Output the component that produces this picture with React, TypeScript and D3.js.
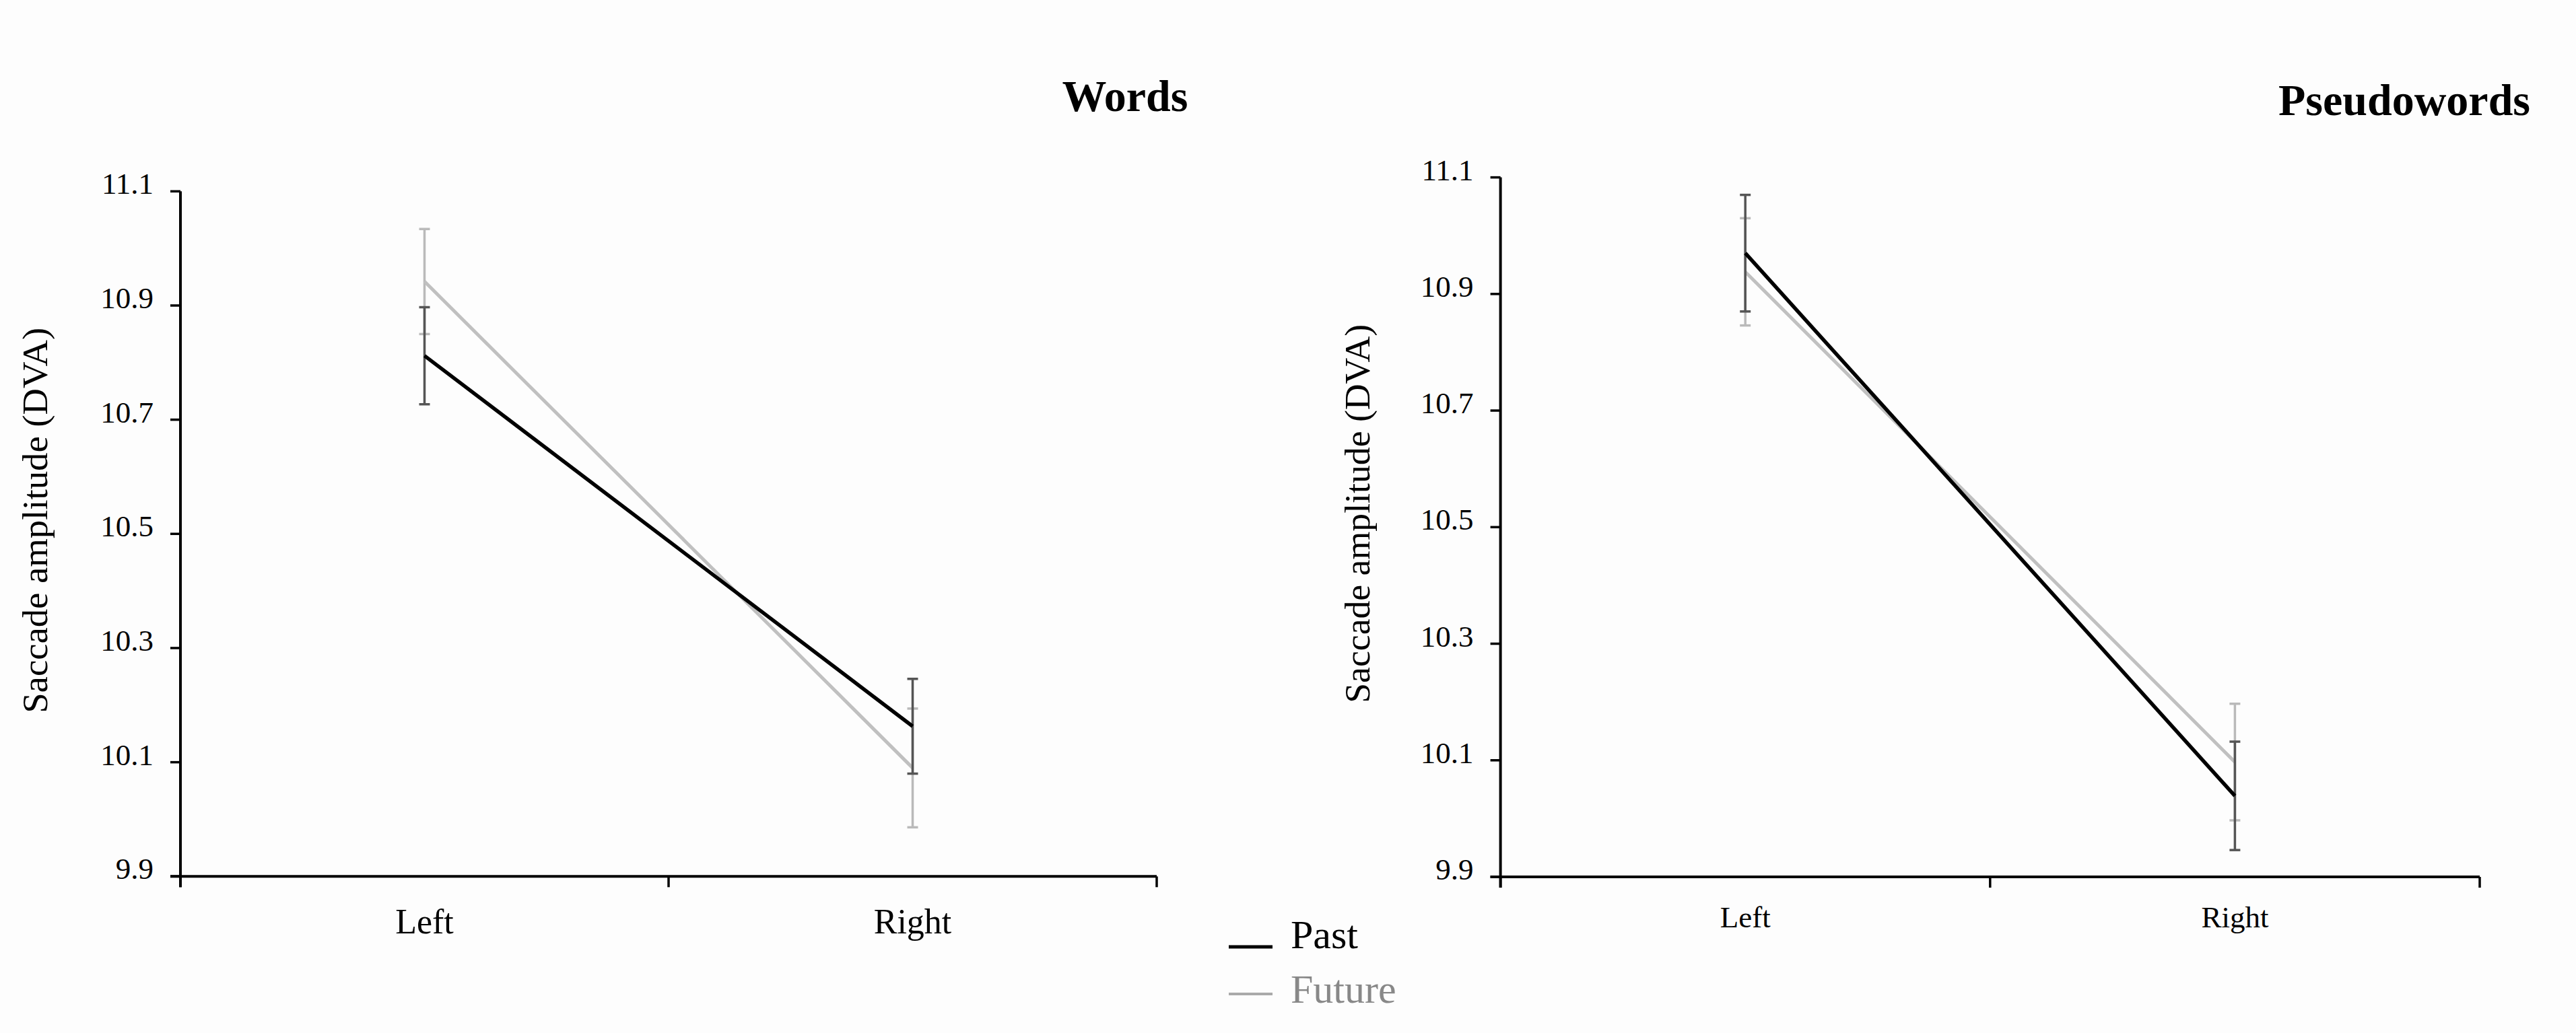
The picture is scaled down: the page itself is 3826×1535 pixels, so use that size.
import { useMemo } from "react"
import * as d3 from "d3"

const conditions = ["Left", "Right"]
const yTicks = [9.9, 10.1, 10.3, 10.5, 10.7, 10.9, 11.1]

const wordsPast = [10.812, 10.163]
const wordsPastErr = [0.085, 0.083]
const wordsFuture = [10.942, 10.09]
const wordsFutureErr = [0.092, 0.104]

const pseudoPast = [10.97, 10.039]
const pseudoPastErr = [0.1, 0.093]
const pseudoFuture = [10.938, 10.097]
const pseudoFutureErr = [0.092, 0.1]

const FONT = "'Liberation Serif', 'Times New Roman', serif"

interface PanelProps {
  title: string
  titleX: number
  titleY: number
  x0: number
  x1: number
  yTop: number
  yBottom: number
  labelX: number
  labelLen: number
  catFont: number
  catGap: number
  past: number[]
  pastErr: number[]
  future: number[]
  futureErr: number[]
}

function Panel(p: PanelProps) {
  const x = useMemo(() => d3.scaleBand<string>().domain(conditions).range([p.x0, p.x1]).padding(0), [p.x0, p.x1])
  const y = useMemo(() => d3.scaleLinear().domain([9.9, 11.1]).range([p.yBottom, p.yTop]), [p.yTop, p.yBottom])
  const cx = (c: string) => (x(c) || 0) + x.bandwidth() / 2
  const line = d3.line<number>().x((_, i) => cx(conditions[i])).y(d => y(d))

  const series = [
    { vals: p.future, errs: p.futureErr, stroke: "#c0c0c0", bar: "#bababa", w: 5 },
    { vals: p.past, errs: p.pastErr, stroke: "#000", bar: "#555", w: 5.5 },
  ]
  const bounds = [p.x0, ...conditions.slice(1).map(c => x(c) || 0), p.x1]

  return (
    <g fontFamily={FONT}>
      <text x={p.titleX} y={p.titleY} textAnchor="middle" fontSize={66} fontWeight="bold">{p.title}</text>
      {/* y axis */}
      <line x1={p.x0} x2={p.x0} y1={p.yTop} y2={p.yBottom + 16} stroke="#000" strokeWidth={4} />
      {yTicks.map(t => (
        <g key={t}>
          <line x1={p.x0 - 15} x2={p.x0} y1={y(t)} y2={y(t)} stroke="#000" strokeWidth={3.5} />
          <text x={p.x0 - 40} y={y(t) + 4} textAnchor="end" fontSize={45}>{t.toFixed(1)}</text>
        </g>
      ))}
      <text
        transform={`translate(${p.labelX},${(p.yTop + p.yBottom) / 2 - 20}) rotate(-90)`}
        textAnchor="middle"
        fontSize={53}
        textLength={p.labelLen}
        lengthAdjust="spacingAndGlyphs"
      >Saccade amplitude (DVA)</text>
      {/* x axis */}
      <line x1={p.x0 - 15} x2={p.x1} y1={p.yBottom} y2={p.yBottom} stroke="#000" strokeWidth={4} />
      {bounds.map((b, i) => (
        <line key={i} x1={b} x2={b} y1={p.yBottom} y2={p.yBottom + 16} stroke="#000" strokeWidth={3.5} />
      ))}
      {conditions.map(c => (
        <text key={c} x={cx(c)} y={p.yBottom + p.catGap} textAnchor="middle" fontSize={p.catFont}>{c}</text>
      ))}
      {series.map((s, si) => (
        <g key={si}>
          {s.vals.map((v, i) => {
            const xc = cx(conditions[i])
            const hi = y(v + s.errs[i])
            const lo = y(v - s.errs[i])
            return (
              <g key={i} stroke={s.bar} strokeWidth={3.5}>
                <line x1={xc} x2={xc} y1={hi} y2={lo} />
                <line x1={xc - 8} x2={xc + 8} y1={hi} y2={hi} />
                <line x1={xc - 8} x2={xc + 8} y1={lo} y2={lo} />
              </g>
            )
          })}
          <path d={line(s.vals) || ""} fill="none" stroke={s.stroke} strokeWidth={s.w} />
        </g>
      ))}
    </g>
  )
}

export default function App() {
  return (
    <div style={{ position: "absolute", left: 0, top: 0 }}>
      <svg width={3826} height={1535} style={{ display: "block", background: "#fdfdfd" }}>
        <Panel
          title="Words" titleX={1671} titleY={165}
          x0={268} x1={1718} yTop={284.3} yBottom={1302.3}
          labelX={70} labelLen={573} catFont={52} catGap={85}
          past={wordsPast} pastErr={wordsPastErr} future={wordsFuture} futureErr={wordsFutureErr}
        />
        <Panel
          title="Pseudowords" titleX={3571} titleY={171}
          x0={2228.6} x1={3683} yTop={263.6} yBottom={1303}
          labelX={2034} labelLen={563} catFont={45} catGap={75}
          past={pseudoPast} pastErr={pseudoPastErr} future={pseudoFuture} futureErr={pseudoFutureErr}
        />
        <g fontFamily={FONT} fontSize={60}>
          <line x1={1825} x2={1890} y1={1407} y2={1407} stroke="#000" strokeWidth={5} />
          <text x={1917} y={1409} fill="#000">Past</text>
          <line x1={1825} x2={1890} y1={1477} y2={1477} stroke="#aaa" strokeWidth={4} />
          <text x={1917} y={1490} fill="#888">Future</text>
        </g>
      </svg>
    </div>
  )
}
